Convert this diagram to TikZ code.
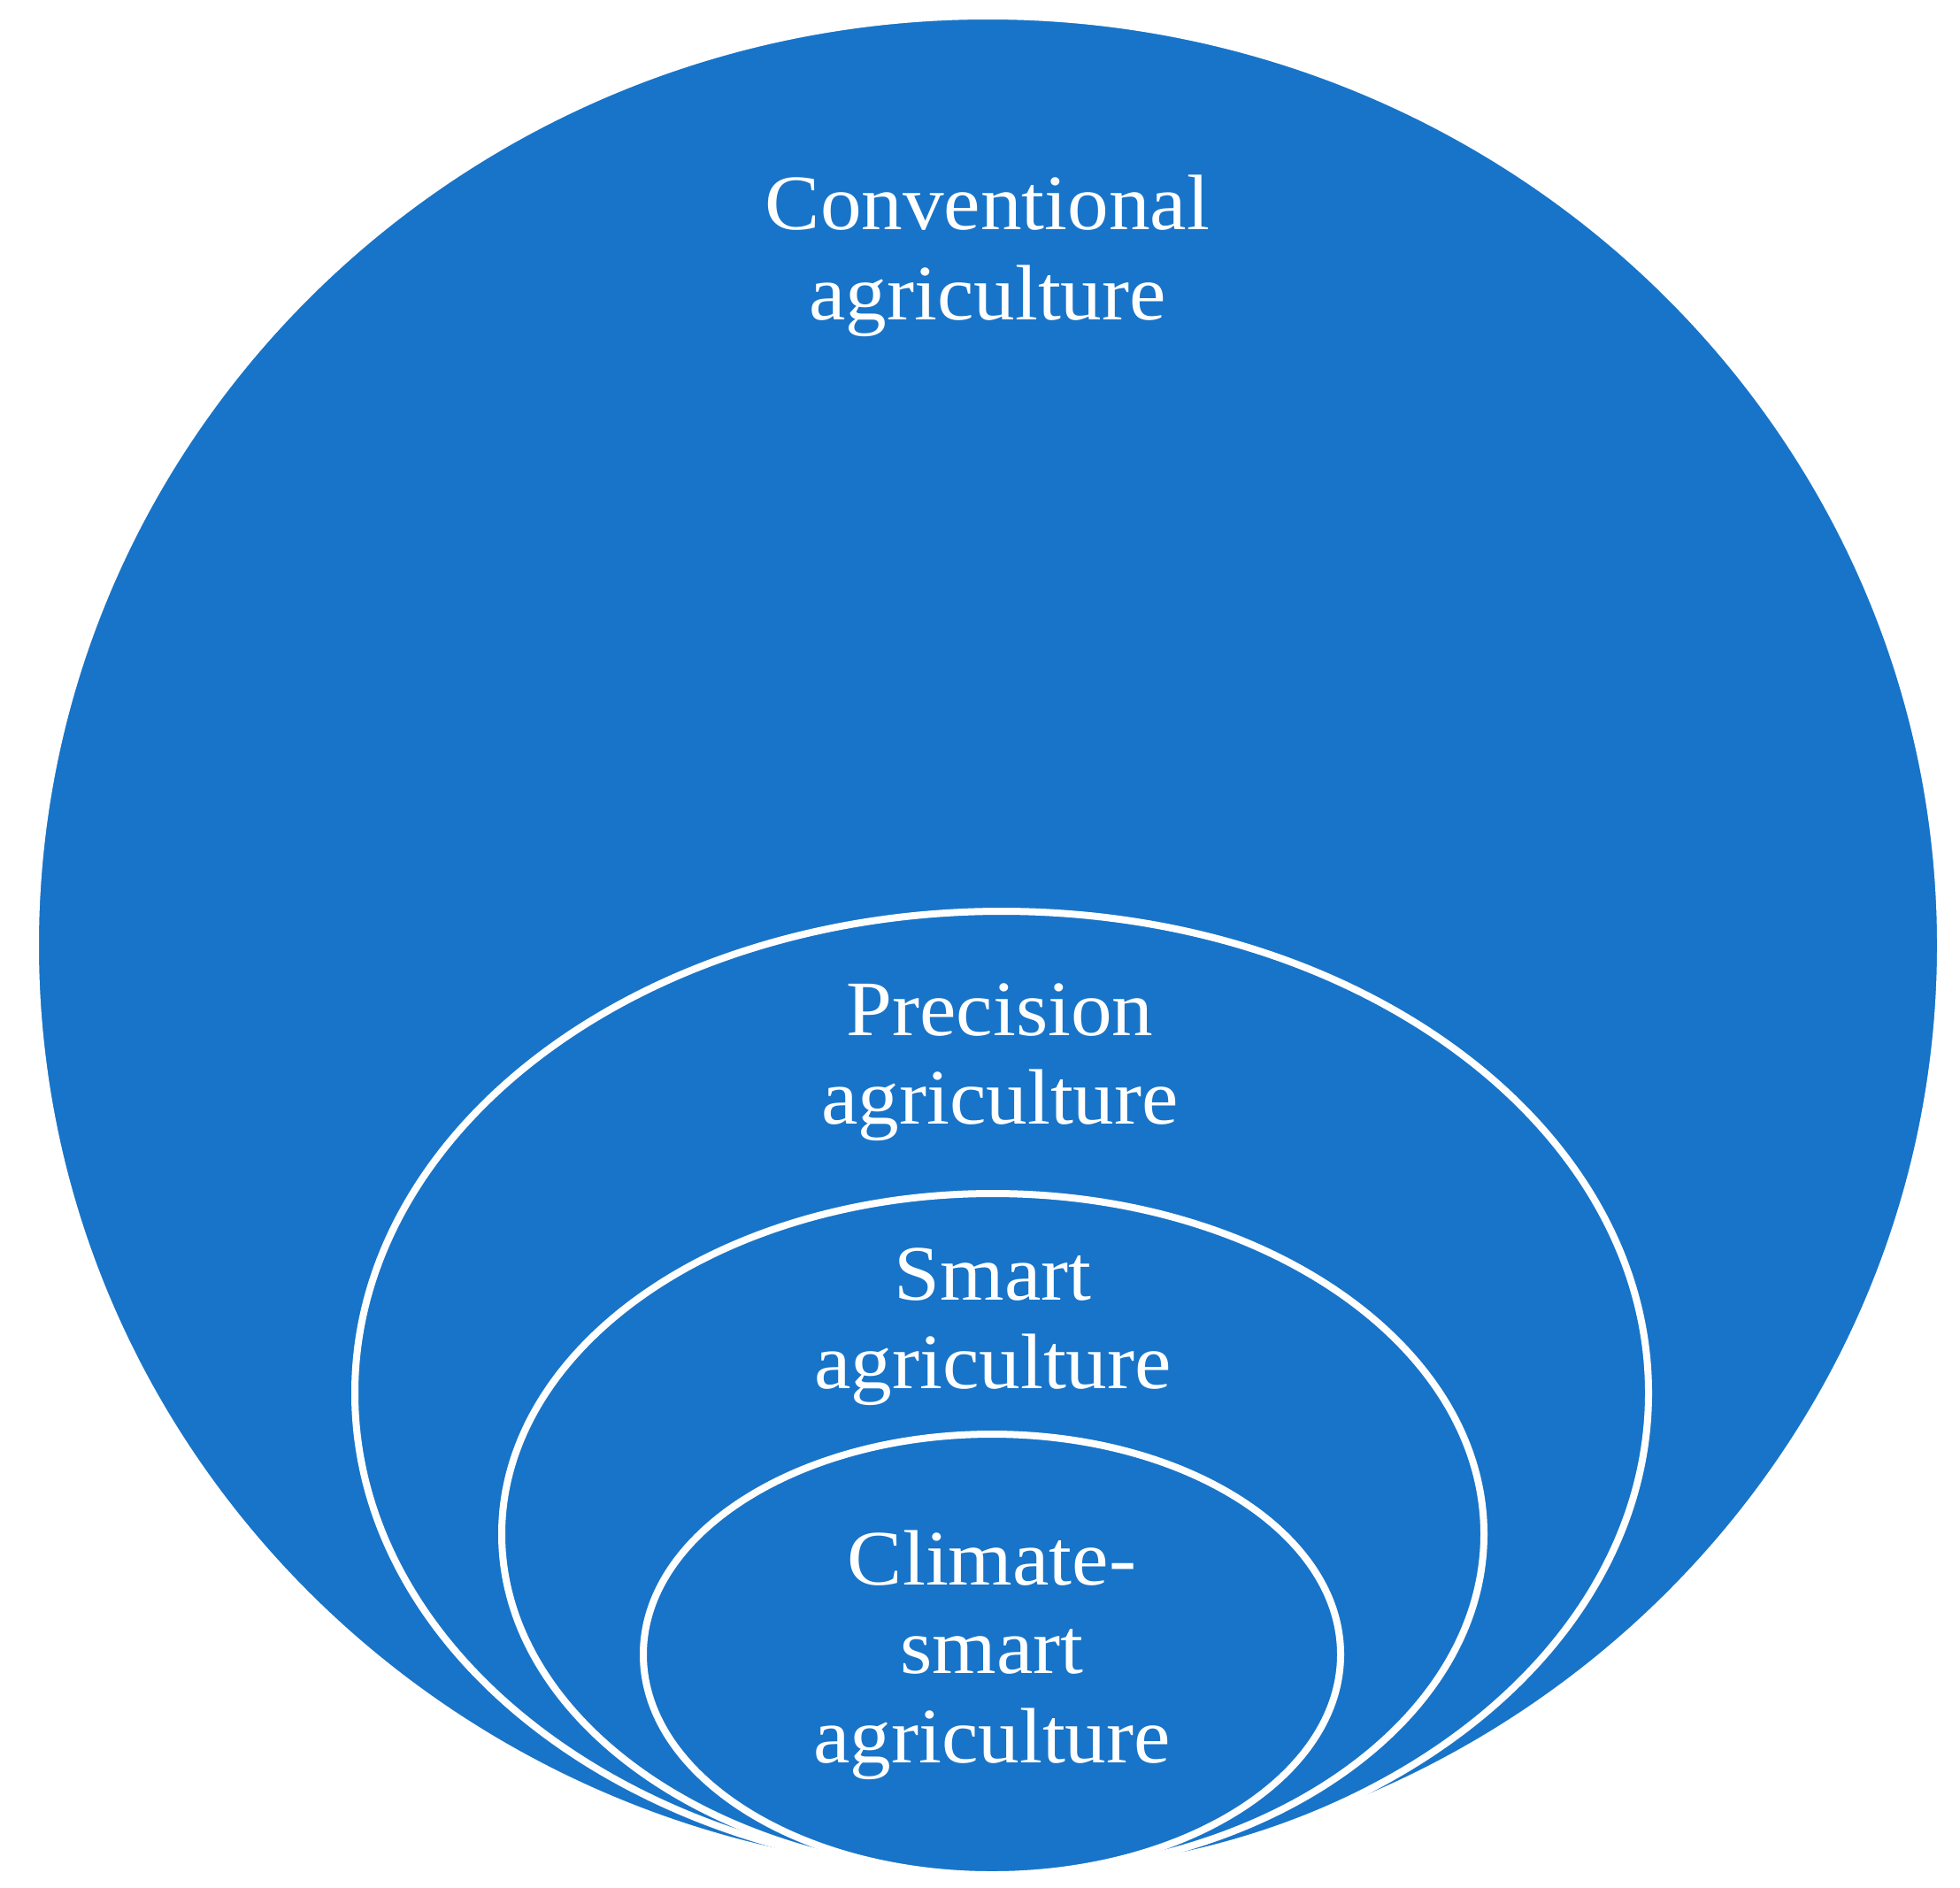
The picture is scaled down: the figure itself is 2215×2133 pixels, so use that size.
\documentclass[tikz,border=0pt]{standalone}
\usepackage{fontspec}
\setmainfont[FakeStretch=1.05]{Liberation Serif}
\definecolor{ringblue}{RGB}{24,116,200}
\tikzset{
  ring/.style={fill=ringblue, draw=white, line width=2pt},
  lbl/.style={anchor=base, text=white, inner sep=0pt, font=\fontsize{22.2pt}{26pt}\selectfont}
}
\begin{document}
\begin{tikzpicture}[x=0.25pt,y=-0.25pt]
\useasboundingbox (0,0) rectangle (2215,2133);
% nested ellipses, all tangent at the bottom
\path[ring] (1116.5,1068.5) ellipse [x radius=1076.5, y radius=1050.5];
\path[ring] (1132,1574.5) ellipse [x radius=731, y radius=544.5];
\path[ring] (1122,1734) ellipse [x radius=555, y radius=385];
\path[ring] (1121,1870) ellipse [x radius=394, y radius=249];
% labels
\node[lbl] (conv1) at (1116,259) {Conventional};
\node[lbl] (conv2) at (1116,361) {agriculture};
\node[lbl] (prec1) at (1130,1170) {Precision};
\node[lbl] (prec2) at (1130,1270) {agriculture};
\node[lbl] (smart1) at (1122,1469) {Smart};
\node[lbl] (smart2) at (1122,1569) {agriculture};
\node[lbl] (cs1) at (1121,1791) {Climate-};
\node[lbl] (cs2) at (1121,1891) {smart};
\node[lbl] (cs3) at (1121,1992) {agriculture};
\end{tikzpicture}
\end{document}
